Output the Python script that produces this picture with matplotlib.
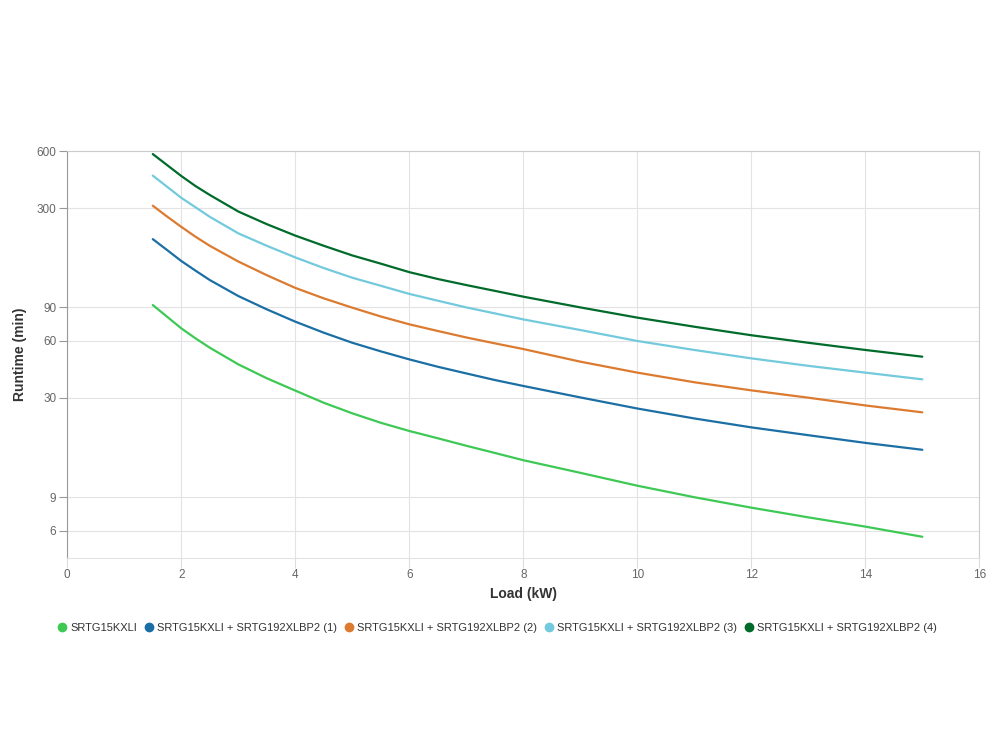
import matplotlib.pyplot as plt
from matplotlib.lines import Line2D

plt.rcParams['font.family'] = ['Liberation Sans', 'DejaVu Sans']

# load in kW
load_kw = [1.5, 1.75, 2, 2.25, 2.5, 3, 3.5, 4, 4.5, 5, 5.5, 6, 6.5, 7, 7.5, 8,
           9, 10, 11, 12, 13, 14, 15]

# runtime in minutes
rt_base = [92.6, 80.4, 69.8, 61.8, 55.2, 45.1, 38.1, 32.8, 28.3, 24.9, 22.2, 20.1,
           18.4, 16.8, 15.4, 14.1, 12.1, 10.35, 9.0, 7.93, 7.05, 6.3, 5.57]
rt_bp1 = [206, 180.5, 158, 140.5, 125.4, 103.3, 87.9, 75.7, 66.2, 58.6, 52.8, 47.9,
          43.8, 40.4, 37.3, 34.7, 30.2, 26.4, 23.4, 21.0, 19.1, 17.4, 16.0]
rt_bp2 = [309, 271, 239, 212, 190, 157, 133, 114, 100.4, 89.7, 80.6, 73.3,
          67.6, 62.5, 58.2, 54.3, 46.6, 40.8, 36.3, 32.9, 30.1, 27.4, 25.2]
rt_bp3 = [445, 389, 340, 303, 270, 221, 190, 165, 145, 129, 117, 106,
          97.6, 90, 83.7, 77.8, 68.4, 59.9, 53.7, 48.5, 44.3, 40.8, 37.6]
rt_bp4 = [578, 506, 443, 392, 352, 288, 247, 215, 190, 169, 153, 138,
          127, 118, 110, 102.5, 90, 79.5, 71.2, 64.2, 58.6, 53.7, 49.5]

series_names = [
    "SRTG15KXLI",
    "SRTG15KXLI + SRTG192XLBP2 (1)",
    "SRTG15KXLI + SRTG192XLBP2 (2)",
    "SRTG15KXLI + SRTG192XLBP2 (3)",
    "SRTG15KXLI + SRTG192XLBP2 (4)",
]
colors = ["#3ec955", "#1b6fa4", "#dc7b30", "#72cadc", "#006b2a"]

y_ticks = [6, 9, 30, 60, 90, 300, 600]
x_ticks = [0, 2, 4, 6, 8, 10, 12, 14, 16]

fig = plt.figure(figsize=(10, 7.5), dpi=100)
ax = fig.add_axes([0.0673, 1 - 558.3 / 750, 0.912, (558.3 - 151) / 750])

all_series = [rt_base, rt_bp1, rt_bp2, rt_bp3, rt_bp4]
for vals, name, c in zip(all_series, series_names, colors):
    ax.plot(load_kw, vals, color=c, lw=1.6, label=name,
            solid_capstyle='round', solid_joinstyle='round')

ax.set_yscale('log')
ax.set_ylim(4.29, 600)
ax.set_xlim(0, 16)
ax.set_yticks(y_ticks)
ax.set_yticklabels([str(t) for t in y_ticks])
ax.minorticks_off()
ax.set_xticks(x_ticks)

ax.grid(True, color="#e3e3e3", lw=0.8)
ax.set_axisbelow(True)
for side in ['top', 'right']:
    ax.spines[side].set_color("#cccccc")
    ax.spines[side].set_linewidth(0.8)
ax.spines['left'].set_color("#999999")
ax.spines['left'].set_linewidth(0.8)
ax.spines['bottom'].set_color("#e3e3e3")
ax.spines['bottom'].set_linewidth(0.8)

ax.tick_params(axis='y', colors="#666666", labelsize=8.5, length=6, width=0.8, pad=2)
ax.tick_params(axis='y', color="#999999")
ax.tick_params(axis='x', colors="#666666", labelsize=8.5, length=7, width=0.8, pad=1)
ax.tick_params(axis='x', color="#dddddd")

ax.set_ylabel("Runtime (min)", fontsize=10, fontweight='bold', color="#333333", labelpad=7)
ax.set_xlabel("Load (kW)", fontsize=10, fontweight='bold', color="#333333", labelpad=4)

handles = [Line2D([], [], ls='none', marker='o', ms=6, color=c) for c in colors]
fig.legend(handles, series_names, loc='center', bbox_to_anchor=(0.496, 1 - 628 / 750),
           ncol=5, frameon=False, fontsize=8, labelcolor="#333333",
           handletextpad=0.15, columnspacing=0.35, handlelength=1.3)

fig.savefig("out.png", dpi=100)
